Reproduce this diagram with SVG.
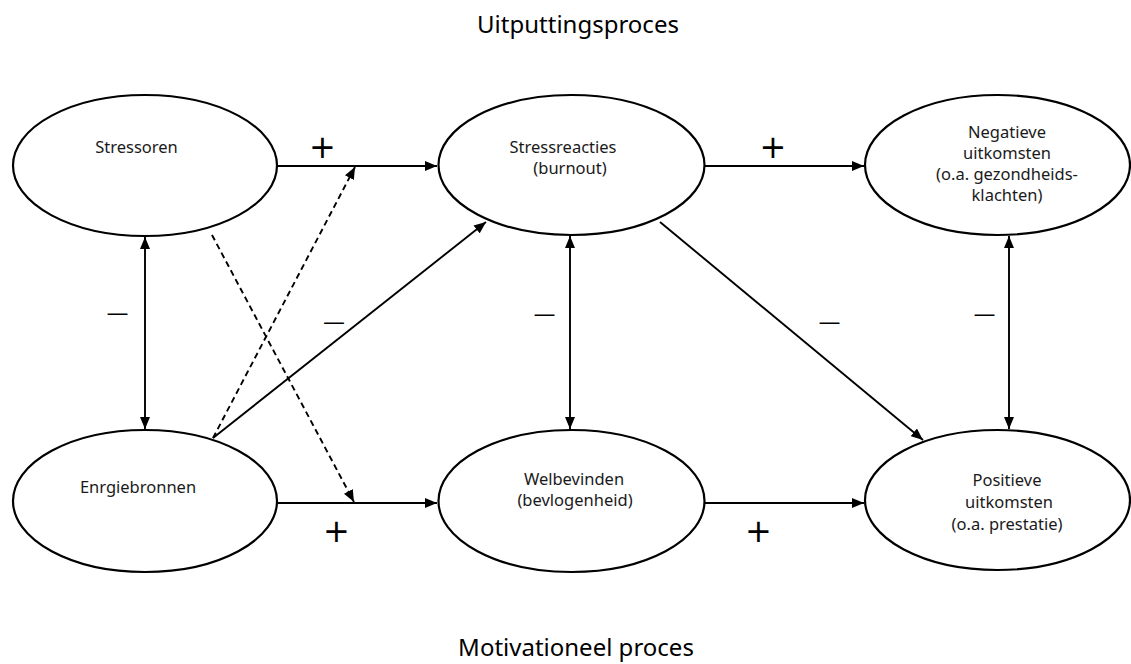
<svg xmlns="http://www.w3.org/2000/svg" width="1131" height="664" viewBox="0 0 1131 664">
<style>
.node ellipse{fill:#fff;stroke:#000;stroke-width:2.2}
.t{font-family:"Noto Sans","Open Sans",sans-serif;font-size:16.5px;fill:#1a1a1a;text-anchor:middle}
.title{font-family:"Noto Sans","Open Sans",sans-serif;font-size:24px;fill:#000;text-anchor:middle}
.lbl{font-family:"DejaVu Sans",sans-serif;font-size:32px;fill:#000;text-anchor:middle}
.dash{font-family:"DejaVu Sans",sans-serif;font-size:22px;fill:#000;text-anchor:middle}
.e{stroke:#000;stroke-width:1.9;fill:none}
.d{stroke-dasharray:6 4}
</style>
<defs>
<marker id="a" viewBox="0 0 12 10" refX="12" refY="5" markerWidth="12" markerHeight="10" markerUnits="userSpaceOnUse" orient="auto-start-reverse">
<path d="M0,0 L12,5 L0,10 Z" fill="#000"/>
</marker>
</defs>
<rect width="1131" height="664" fill="#fff"/>
<text class="title" x="578" y="33">Uitputtingsproces</text>
<text class="title" x="576" y="656">Motivationeel proces</text>
<g id="connectors">
<line class="e" x1="277" y1="166" x2="437" y2="166" marker-end="url(#a)"/>
<line class="e" x1="705" y1="166" x2="864" y2="166" marker-end="url(#a)"/>
<line class="e" x1="277" y1="503" x2="437" y2="503" marker-end="url(#a)"/>
<line class="e" x1="705" y1="503" x2="864" y2="503" marker-end="url(#a)"/>
<line class="e" x1="145" y1="237" x2="145" y2="429" marker-start="url(#a)" marker-end="url(#a)"/>
<line class="e" x1="570" y1="236" x2="570" y2="429" marker-start="url(#a)" marker-end="url(#a)"/>
<line class="e" x1="1009" y1="236" x2="1009" y2="429" marker-start="url(#a)" marker-end="url(#a)"/>
<line class="e" x1="213" y1="438" x2="486" y2="222" marker-end="url(#a)"/>
<line class="e" x1="660" y1="222" x2="923" y2="440" marker-end="url(#a)"/>
<line class="e d" x1="213" y1="438" x2="355" y2="167" marker-end="url(#a)"/>
<line class="e d" x1="212" y1="235" x2="354" y2="502" marker-end="url(#a)"/>
<text class="lbl" x="322.5" y="158">+</text>
<text class="lbl" x="773" y="158">+</text>
<text class="lbl" x="336.5" y="542">+</text>
<text class="lbl" x="758.5" y="542">+</text>
<text class="dash" x="117.5" y="320">—</text>
<text class="dash" x="334" y="329">—</text>
<text class="dash" x="544.5" y="321">—</text>
<text class="dash" x="829.5" y="329">—</text>
<text class="dash" x="984.5" y="321">—</text>
</g>
<g id="stressoren" class="node"><ellipse cx="145" cy="165.5" rx="132" ry="70.5"/><text class="t" x="136.5" y="153">Stressoren</text></g>
<g id="stressreacties" class="node"><ellipse cx="571.5" cy="165" rx="133" ry="70"/><text class="t" x="563" y="153">Stressreacties</text><text class="t" x="570" y="174">(burnout)</text></g>
<g id="negatieve" class="node"><ellipse cx="997.5" cy="165" rx="132.5" ry="70"/><text class="t" x="1007" y="138">Negatieve</text><text class="t" x="1007" y="159">uitkomsten</text><text class="t" x="1007" y="180">(o.a. gezondheids-</text><text class="t" x="1007" y="201">klachten)</text></g>
<g id="energiebronnen" class="node"><ellipse cx="145" cy="501" rx="132" ry="71"/><text class="t" x="138" y="493">Enrgiebronnen</text></g>
<g id="welbevinden" class="node"><ellipse cx="571.5" cy="501" rx="133" ry="71"/><text class="t" x="574" y="485">Welbevinden</text><text class="t" x="575" y="506">(bevlogenheid)</text></g>
<g id="positieve" class="node"><ellipse cx="997.5" cy="500" rx="132.5" ry="70"/><text class="t" x="1007" y="486">Positieve</text><text class="t" x="1009" y="508">uitkomsten</text><text class="t" x="1007" y="530">(o.a. prestatie)</text></g>
</svg>
